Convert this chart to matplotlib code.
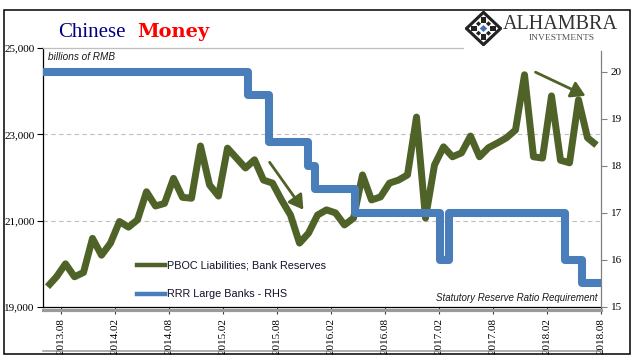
import numpy as np
import matplotlib
matplotlib.use("Agg")
import matplotlib.pyplot as plt
from matplotlib.lines import Line2D
from matplotlib.patches import Polygon, Rectangle, FancyArrowPatch
from matplotlib.ticker import FuncFormatter

# ---------------- data ----------------
tick_labels = ["2013.08", "2014.02", "2014.08", "2015.02", "2015.08", "2016.02",
               "2016.08", "2017.02", "2017.08", "2018.02", "2018.08"]
tick_pos = [1.5, 7.5, 13.5, 19.5, 25.5, 31.5, 37.5, 43.5, 49.5, 55.5, 61.5]

reserves = [19470, 19700, 20000, 19700, 19800, 20590, 20200, 20480, 20980, 20850,
            21020, 21670, 21340, 21400, 21980, 21540, 21520, 22730, 21830, 21570,
            22680, 22450, 22220, 22410, 21940, 21870, 21480, 21130, 20480, 20710,
            21130, 21250, 21180, 20900, 21060, 22060, 21480, 21550, 21870, 21940,
            22060, 23400, 21060, 22290, 22710, 22480, 22570, 22960, 22480, 22690,
            22800, 22920, 23100, 24380, 22480, 22450, 23890, 22400, 22340, 23800,
            22920, 22750]

rrr_month = [-0.5, 22.3, 24.6, 28.9, 29.7, 34.2, 43.6, 44.6, 57.5, 59.4, 61.5]
rrr_value = [20.0, 19.5, 18.5, 18.0, 17.5, 17.0, 16.0, 17.0, 16.0, 15.5, 15.5]

left_ticks = [19000, 21000, 23000, 25000]
right_ticks = [15, 16, 17, 18, 19, 20]

# ---------------- styling ----------------
W, H = 641, 361
GREEN = "#4F6228"
BLUE = "#4A7EBB"
GRID = "#BFBFBF"

def fx(x):
    return x / W

def fy(y):
    return 1 - y / H

fig = plt.figure(figsize=(W / 100, H / 100), dpi=100)
fig.patch.set_facecolor("white")

L, R, T, B = 43, 601, 48, 307
ax = fig.add_axes([fx(L), fy(B), (R - L) / W, (B - T) / H])
ax2 = ax.twinx()

x = np.arange(len(reserves))
ax.plot(x, reserves, color=GREEN, lw=5.0, solid_joinstyle="round",
        solid_capstyle="butt", zorder=3)
ax2.step(rrr_month, rrr_value, where="post", color=BLUE, lw=5.8,
         solid_joinstyle="round", solid_capstyle="butt", zorder=3)

ax.set_xlim(-0.5, 61.5)
ax.set_ylim(19000, 25000)
ax2.set_ylim(15, 20.51)

for v in left_ticks[1:-1]:
    ax.axhline(v, color=GRID, lw=0.8, ls=(0, (4, 3)), zorder=1)

ax.set_yticks(left_ticks)
ax.yaxis.set_major_formatter(FuncFormatter(lambda v, p: f"{int(v):,}"))
ax2.set_yticks(right_ticks)
ax.set_xticks(tick_pos)
ax.set_xticklabels(tick_labels, rotation=90)

serif = "Liberation Serif"
for lab in ax.get_yticklabels() + ax2.get_yticklabels() + ax.get_xticklabels():
    lab.set_fontfamily(serif)
    lab.set_fontsize(8)
    lab.set_color("#000000")

ax.tick_params(axis="y", direction="out", length=4, width=0.8, color="#000000", pad=2)
ax2.tick_params(axis="y", direction="out", length=4, width=0.8, color="#808080", pad=3)
ax.tick_params(axis="x", direction="out", length=5, width=0.8, color="#404040", pad=3)

for s in ["top", "right"]:
    ax.spines[s].set_visible(False)
ax.spines["left"].set_color("#000000")
ax.spines["bottom"].set_color("#000000")
ax.spines["left"].set_linewidth(0.9)
ax.spines["bottom"].set_linewidth(0.9)
for s in ["top", "left", "bottom"]:
    ax2.spines[s].set_visible(False)
ax2.spines["right"].set_color("#808080")
ax2.spines["right"].set_linewidth(0.9)
ax2.spines["right"].set_bounds(15, 20.45)

# decorations in figure pixel space
def fline(x0, y0, x1, y1, **kw):
    fig.add_artist(Line2D([fx(x0), fx(x1)], [fy(y0), fy(y1)],
                          transform=fig.transFigure, **kw))

fline(L, T, 463, T, color=GRID, lw=0.9)              # top gridline
fline(L, 309.5, R, 309.5, color="#9A9A9A", lw=2.3)   # gray band under axis
fline(L, 351, R, 351, color="#9A9A9A", lw=1.1)       # bottom gray rule

# outer frame
fig.add_artist(Rectangle((fx(4), fy(354)), (630 - 4) / W, (354 - 10) / H,
                         transform=fig.transFigure, fill=False,
                         edgecolor="black", lw=1.1))

# title
fig.text(fx(58), fy(37), "Chinese", family="Liberation Serif", fontsize=15,
         color="#000080", ha="left", va="baseline")
fig.text(fx(137), fy(37), "Money", family="DejaVu Serif", fontsize=14,
         fontweight="bold", color="#FF0000", ha="left", va="baseline")

# annotations
fig.text(fx(48), fy(57), "billions of RMB", family="Liberation Sans",
         style="italic", fontsize=7.2, color="#1a1a1a", ha="left", va="center")
fig.text(fx(597), fy(298), "Statutory Reserve Ratio Requirement",
         family="Liberation Sans", style="italic", fontsize=7.0,
         color="#1a1a1a", ha="right", va="center")

# legend
fline(137, 265, 165, 265, color=GREEN, lw=3.2)
fig.text(fx(167), fy(265), "PBOC Liabilities; Bank Reserves",
         family="Liberation Sans", fontsize=7.8, color="#101028",
         ha="left", va="center")
fline(137, 294, 165, 294, color=BLUE, lw=3.2)
fig.text(fx(167), fy(294), "RRR Large Banks - RHS",
         family="Liberation Sans", fontsize=7.8, color="#101028",
         ha="left", va="center")

# arrows
for (x0, y0, x1, y1) in [(268, 160, 305, 212), (533, 71, 588, 97)]:
    fig.add_artist(FancyArrowPatch(
        (fx(x0), fy(y0)), (fx(x1), fy(y1)), transform=fig.transFigure,
        arrowstyle="-|>,head_length=5,head_width=3", color=GREEN, lw=2.0,
        mutation_scale=1.7))

# logo
lax = fig.add_axes([fx(465), fy(46), 37 / W, 35 / H])
lax.set_xlim(-1, 1)
lax.set_ylim(-1, 1)
lax.axis("off")
lax.add_patch(Polygon([(0, -1), (1, 0), (0, 1), (-1, 0)], closed=True,
                      facecolor="#222222", edgecolor="#222222", lw=0.8))
lax.add_patch(Polygon([(0, -0.8), (0.8, 0), (0, 0.8), (-0.8, 0)], closed=True,
                      facecolor="white", edgecolor="none"))
for cx, cy in [(0, 0.5), (0, -0.5), (0.5, 0), (-0.5, 0)]:
    lax.add_patch(Rectangle((cx - 0.16, cy - 0.16), 0.32, 0.32,
                            facecolor="#222222", edgecolor="none"))
for cx, cy in [(0.27, 0.27), (-0.27, 0.27), (0.27, -0.27), (-0.27, -0.27)]:
    lax.add_patch(Polygon([(cx, cy - 0.14), (cx + 0.14, cy), (cx, cy + 0.14),
                           (cx - 0.14, cy)], facecolor="#222222", edgecolor="none"))
lax.add_patch(Polygon([(0, -0.2), (0.2, 0), (0, 0.2), (-0.2, 0)], closed=True,
                      facecolor="#3F6FB5", edgecolor="none"))

fig.text(fx(503), fy(29), "ALHAMBRA", family="Liberation Serif", fontsize=14.5,
         color="#333333", ha="left", va="baseline")
fig.text(fx(529), fy(39.5), "INVESTMENTS", family="Liberation Serif",
         fontsize=6.8, color="#555555", ha="left", va="baseline")

fig.savefig("out.png", dpi=100, facecolor="white")
